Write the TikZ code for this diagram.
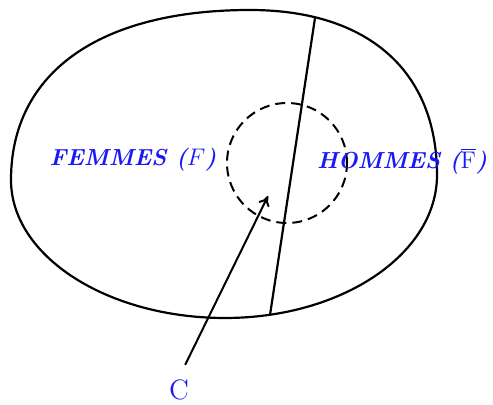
\documentclass[tikz,border=0pt]{standalone}
\usepackage{amsmath,amsfonts,amssymb}
\usepackage{xcolor}
\usepackage{tikz}
\usetikzlibrary{calc,arrows.meta}

\definecolor{setblue}{RGB}{25,25,245}

\begin{document}
\begin{tikzpicture}[
    x=0.5pt, y=-0.5pt,
    setname/.style={
      text=setblue,
      font=\bfseries\itshape\fontsize{11.6}{13}\selectfont,
      inner sep=1pt
    },
    outline/.style={black, line width=1.1pt}
  ]
    \useasboundingbox (0,0) rectangle (493,405);
    % the whole population
    \coordinate (otop) at (250,10);
    \coordinate (oright) at (437,175);
    \coordinate (obot) at (225,318);
    \coordinate (oleft) at (11,180);
    \draw[outline]
      (otop) .. controls (368,10) and (437,71) .. (oright)
      .. controls (437,254) and (342,318) .. (obot)
      .. controls (107,318) and (11,256) .. (oleft)
      .. controls (11,73) and (99,10) .. cycle;
    % split between the two sets
    \coordinate (split top) at (315,18);
    \coordinate (split bot) at (270,315);
    \draw[outline] (split top) -- (split bot);
    % the subset C
    \draw[black, line width=1pt, dash pattern=on 5pt off 3pt]
      (287,163) circle[radius=30pt];
    \node[setname] (femmes) at (133,160) {FEMMES ($F$)};
    \node[setname] (hommes) at (402,161) {HOMMES ($\overline{\mathrm{F}}$)};
    \node[
      text=setblue,
      font=\fontsize{14}{16}\selectfont,
      inner sep=1pt
    ] (cset) at (179,390) {C};
    \coordinate (ctip) at (268,196);
    \draw[outline, line width=1pt, -{To[length=5pt,width=6pt]}, shorten <=7pt]
      (cset.north) -- (ctip);
  \end{tikzpicture}
\end{document}
